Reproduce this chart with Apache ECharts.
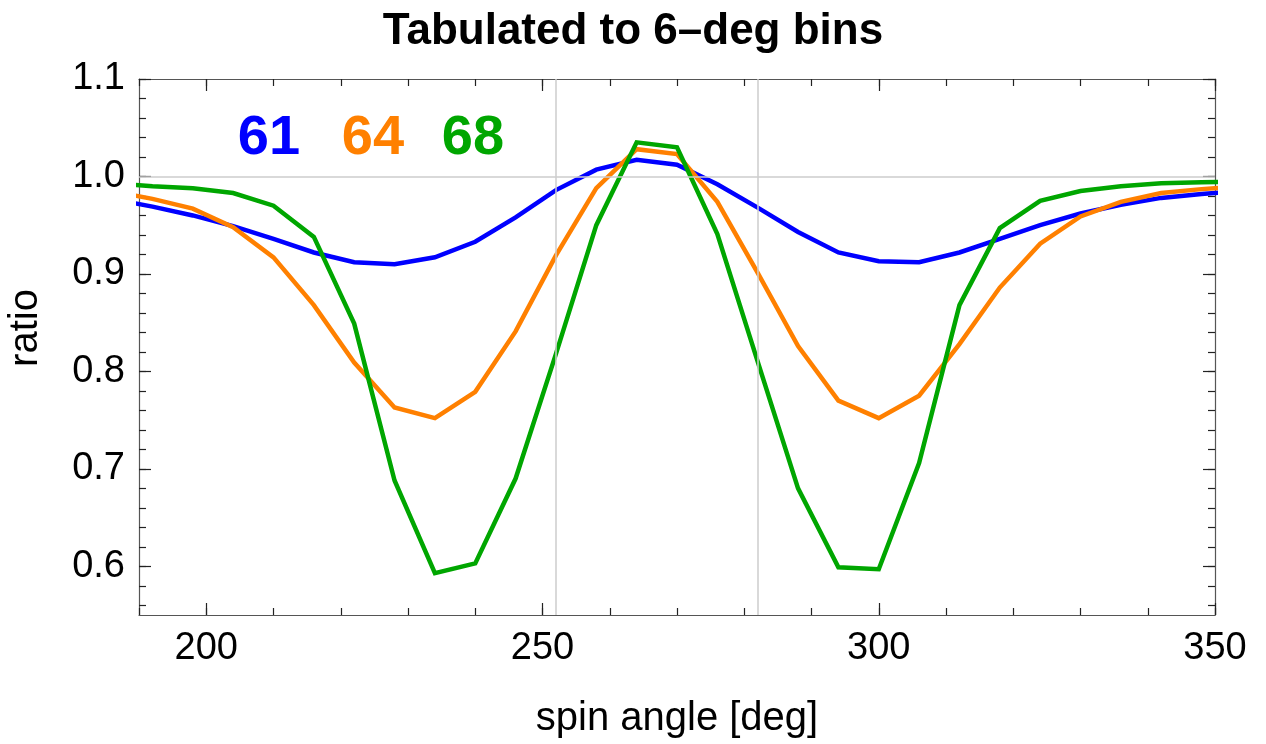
<!doctype html>
<html>
<head>
<meta charset="utf-8">
<title>Tabulated to 6-deg bins</title>
<script src="https://cdn.jsdelivr.net/npm/echarts@6/dist/echarts.min.js"></script>
<style>
html,body{margin:0;padding:0;background:#fff;}
#chart{width:1266px;height:744px;}
</style>
</head>
<body>
<div id="chart"></div>
<script type="text/javascript">
// spin angle bins (deg)
var angles = [186,192,198,204,210,216,222,228,234,240,246,252,258,264,270,276,282,288,294,300,306,312,318,324,330,336,342,348,354];
// ratio for each run
var run61 = [0.977,0.969,0.960,0.949,0.936,0.922,0.912,0.910,0.917,0.933,0.958,0.986,1.007,1.017,1.012,0.992,0.968,0.943,0.922,0.913,0.912,0.922,0.936,0.950,0.962,0.971,0.978,0.982,0.985];
var run64 = [0.985,0.977,0.967,0.948,0.917,0.868,0.809,0.763,0.752,0.779,0.841,0.919,0.988,1.028,1.023,0.974,0.901,0.826,0.770,0.752,0.775,0.828,0.886,0.931,0.959,0.974,0.983,0.987,0.990];
var run68 = [0.993,0.990,0.988,0.983,0.970,0.938,0.849,0.688,0.593,0.603,0.690,0.818,0.950,1.035,1.030,0.941,0.810,0.680,0.599,0.597,0.706,0.868,0.947,0.975,0.985,0.990,0.993,0.994,0.995];
var runNames = ['61','64','68'];
var runColors = ['#0000ff','#ff8000','#00a600'];

var xTicks = [200,250,300,350];
var yTicks = [0.6,0.7,0.8,0.9,1.0,1.1];
var gridX = [252,282];
var gridY = [1.0];

var FONT = "'Liberation Sans', Arial, Helvetica, sans-serif";

(function(){
	var yMinor = [];
	for(var v=56;v<=110;v+=2){ yMinor.push(v/100); }

	function pairs(ys){
		var out = [];
		for(var i=0;i<angles.length;i++){ out.push([angles[i], ys[i]]); }
		return out;
	}

	function xAxisOf(pos, major){
		return {
			type:'value', position:pos, min:190, max:350,
			interval: major ? undefined : 10,
			axisLine:{show:major, onZero:false, lineStyle:{color:'#555', width:1.2}},
			axisTick:{show:true, inside:true, length: major?12:7, customValues: major?xTicks:undefined, lineStyle:{color:'#222', width:1.2}},
			axisLabel:{show: major && pos==='bottom', customValues:xTicks, fontSize:38, color:'#000', margin:15, fontFamily:FONT},
			splitLine:{show:false}
		};
	}
	function yAxisOf(pos, major){
		return {
			type:'value', position:pos, min:0.55, max:1.1,
			axisLine:{show:major, onZero:false, lineStyle:{color:'#555', width:1.2}},
			axisTick:{show:true, inside:true, length: major?12:7, customValues: major?yTicks:yMinor, lineStyle:{color:'#222', width:1.2}},
			axisLabel:{show: major && pos==='left', customValues:yTicks, fontSize:38, color:'#000', margin:14, fontFamily:FONT,
				formatter:function(v){ return v.toFixed(1); }},
			splitLine:{show:false}
		};
	}

	var xAxes = [xAxisOf('bottom',true), xAxisOf('bottom',false), xAxisOf('top',true), xAxisOf('top',false)];
	xAxes[0].name = 'spin angle [deg]';
	xAxes[0].nameLocation = 'middle';
	xAxes[0].nameGap = 84;
	xAxes[0].nameTextStyle = {fontSize:40, color:'#000', fontFamily:FONT};
	var yAxes = [yAxisOf('left',true), yAxisOf('left',false), yAxisOf('right',true), yAxisOf('right',false)];

	var runs = [run61, run64, run68];
	var series = [{
		type:'line', data:[], z:1, silent:true,
		markLine:{
			silent:true, symbol:'none', animation:false,
			label:{show:false},
			lineStyle:{color:'#cccccc', width:1.5, type:'solid'},
			data: gridX.map(function(x){ return {xAxis:x}; }).concat(gridY.map(function(y){ return {yAxis:y}; }))
		}
	}];
	for(var i=0;i<runs.length;i++){
		series.push({
			name:runNames[i], type:'line', data:pairs(runs[i]), z:3,
			showSymbol:false, symbol:'none', clip:true,
			lineStyle:{color:runColors[i], width:4.5, join:'miter'}
		});
	}

	var labelX = [269,373,473];
	var graphics = [{
		type:'text', x:26, y:328, rotation:Math.PI/2,
		style:{text:'ratio', fill:'#000', font:'40px '+FONT, textAlign:'center', textVerticalAlign:'middle'}
	}];
	for(var k=0;k<runNames.length;k++){
		graphics.push({
			type:'text', x:labelX[k], y:139, z:10,
			style:{text:runNames[k], fill:runColors[k], font:'bold 56px '+FONT, textAlign:'center', textVerticalAlign:'middle'}
		});
	}

	var option = {
		animation:false,
		backgroundColor:'#fff',
		title:{
			text:'Tabulated to 6\u2013deg bins', left:'center', top:5,
			textStyle:{fontSize:44, fontWeight:'bold', color:'#000', fontFamily:FONT}
		},
		grid:{left:139, right:51, top:79, bottom:127, show:false},
		xAxis:xAxes,
		yAxis:yAxes,
		graphic:graphics,
		series:series
	};
	echarts.init(document.getElementById('chart')).setOption(option);
})();
</script>
</body>
</html>
